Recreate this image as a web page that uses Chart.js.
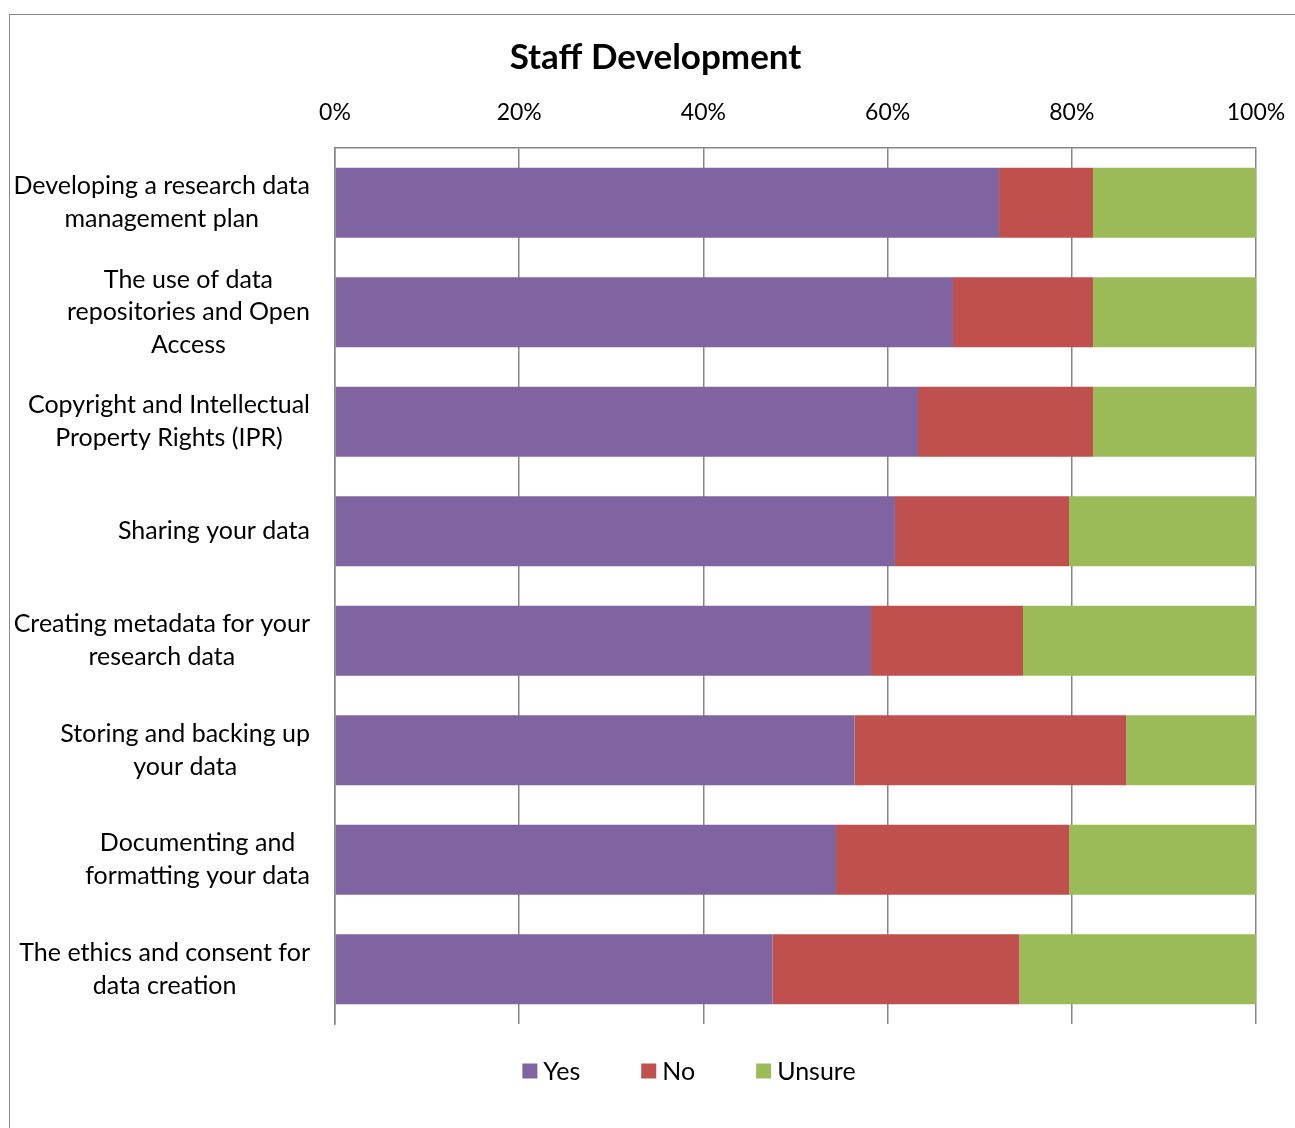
<!DOCTYPE html>
<html>
<head>
<meta charset="utf-8">
<script src="https://cdn.jsdelivr.net/npm/chart.js@4.4.1/dist/chart.umd.min.js"></script>
<style>
  body { margin: 0; background: #fff; overflow: hidden; }
  #frame { position: absolute; left: 9px; top: 14px; width: 1320px; height: 1140px; border: 1px solid #898989; }
  #chart { position: absolute; left: 0; top: 0; }
</style>
</head>
<body>
<div id="frame"></div>
<canvas id="chart" width="1295" height="1128"></canvas>
<script>
// 问题分类（多行标签）
const categories = [
  ['Developing a research data', 'management plan'],
  ['The use of data', 'repositories and Open', 'Access'],
  ['Copyright and Intellectual', 'Property Rights (IPR)'],
  ['Sharing your data'],
  ['Creating metadata for your', 'research data'],
  ['Storing and backing up', 'your data'],
  ['Documenting and', 'formatting your data'],
  ['The ethics and consent for', 'data creation']
];

// 各回答占比（%）
const yesValues = [72.1, 67.1, 63.3, 60.8, 58.2, 56.4, 54.4, 47.5];
const noValues = [10.2, 15.2, 19.0, 18.9, 16.5, 29.5, 25.3, 26.8];
const unsureValues = [17.7, 17.7, 17.7, 20.3, 25.3, 14.1, 20.3, 25.7];

const seriesNames = ['Yes', 'No', 'Unsure'];
const seriesColors = ['#8064A2', '#C0504D', '#9BBB59'];
const xTicks = [0, 20, 40, 60, 80, 100];

const FONT = 'Lato, "Open Sans", sans-serif';
const GRID = '#868686';

// 纵轴标签：每组文字居中，整体右对齐到坐标轴左侧
const categoryLabels = {
  id: 'categoryLabels',
  afterDraw(chart) {
    const ctx = chart.ctx;
    const yScale = chart.scales.y;
    const right = yScale.right - 25;
    const lineH = 32.7;
    ctx.save();
    ctx.font = '25px ' + FONT;
    ctx.fillStyle = '#000';
    ctx.textAlign = 'center';
    ctx.textBaseline = 'middle';
    categories.forEach((lines, i) => {
      const maxW = Math.max(...lines.map(t => ctx.measureText(t).width));
      const cx = right - maxW / 2;
      const cy = yScale.getPixelForValue(i);
      lines.forEach((t, j) => {
        ctx.fillText(t, cx, cy + (j - (lines.length - 1) / 2) * lineH);
      });
    });
    ctx.restore();
  }
};

// 底部图例
const bottomLegend = {
  id: 'bottomLegend',
  afterDraw(chart) {
    const ctx = chart.ctx;
    const box = 15, gap = 6, spacing = 61;
    const centerX = 689, centerY = 1071;
    ctx.save();
    ctx.font = '25px ' + FONT;
    ctx.textBaseline = 'middle';
    ctx.textAlign = 'left';
    const items = chart.data.datasets.map(ds => ({
      text: ds.label, color: ds.backgroundColor, w: ctx.measureText(ds.label).width
    }));
    const total = items.reduce((s, it) => s + box + gap + it.w, 0) + spacing * (items.length - 1);
    let x = centerX - total / 2;
    items.forEach(it => {
      ctx.fillStyle = it.color;
      ctx.fillRect(x, centerY - box / 2, box, box);
      ctx.fillStyle = '#000';
      ctx.fillText(it.text, x + box + gap, centerY + 1);
      x += box + gap + it.w + spacing;
    });
    ctx.restore();
  }
};

const valueSets = [yesValues, noValues, unsureValues];

new Chart(document.getElementById('chart'), {
  type: 'bar',
  data: {
    labels: categories,
    datasets: seriesNames.map((name, k) => ({
      label: name,
      data: valueSets[k],
      backgroundColor: seriesColors[k],
      borderWidth: 0,
      categoryPercentage: 1,
      barPercentage: 0.64
    }))
  },
  options: {
    indexAxis: 'y',
    responsive: false,
    animation: false,
    layout: { padding: { left: 55, right: 39, top: 37, bottom: 104 } },
    plugins: {
      legend: { display: false },
      tooltip: { enabled: false },
      title: {
        display: true,
        text: 'Staff Development',
        color: '#000',
        font: { family: FONT, size: 35, weight: 'bold' },
        padding: { top: 0, bottom: 0 }
      }
    },
    scales: {
      x: {
        position: 'top',
        stacked: true,
        min: 0,
        max: 100,
        afterBuildTicks: scale => { scale.ticks = xTicks.map(v => ({ value: v })); },
        afterFit: scale => {
          scale.height = 69;
          scale.paddingLeft = 0;
          scale.paddingRight = 0;
        },
        ticks: {
          callback: v => v + '%',
          color: '#000',
          font: { family: FONT, size: 23 },
          padding: 22,
          maxRotation: 0
        },
        grid: { color: GRID, lineWidth: 1.5, drawTicks: false },
        border: { display: true, color: GRID, width: 1.5 }
      },
      y: {
        stacked: true,
        afterFit: scale => { scale.width = 280; },
        ticks: { display: false },
        grid: { display: false },
        border: { display: true, color: GRID, width: 1.5 }
      }
    }
  },
  plugins: [categoryLabels, bottomLegend]
});
</script>
</body>
</html>
